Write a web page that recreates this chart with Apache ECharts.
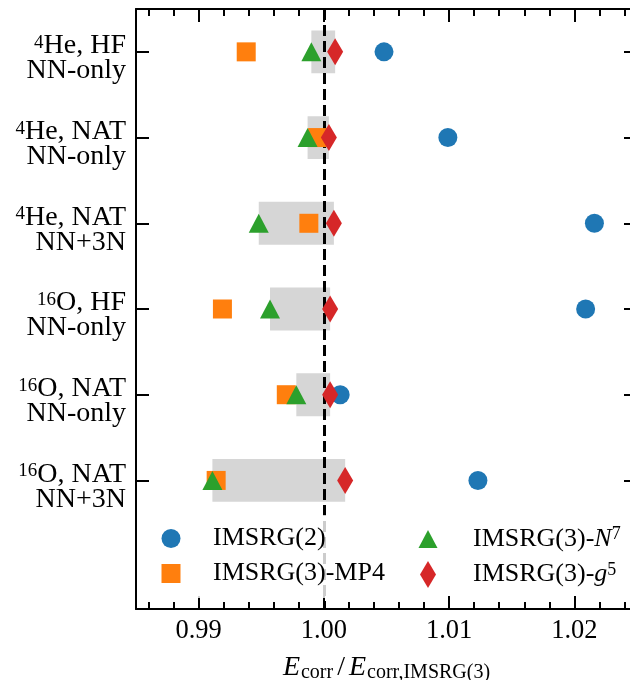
<!DOCTYPE html>
<html>
<head>
<meta charset="utf-8">
<script src="https://cdn.jsdelivr.net/npm/echarts@6/dist/echarts.min.js"></script>
<style>
  html, body { margin: 0; padding: 0; background: #ffffff; }
  #chart { width: 630px; height: 680px; }
</style>
</head>
<body>
<div id="chart"></div>
<script>
// Row labels: mass number (superscript), nucleus + reference state, interaction
const massNumber = ['4', '4', '4', '16', '16', '16'];
const caseTitle = ['He, HF', 'He, NAT', 'He, NAT', 'O, HF', 'O, NAT', 'O, NAT'];
const interaction = ['NN-only', 'NN-only', 'NN+3N', 'NN-only', 'NN-only', 'NN+3N'];

// Correlation energy ratios E_corr / E_corr,IMSRG(3), one entry per row
const imsrg2 = [1.0048, 1.0099, 1.0216, 1.0209, 1.0013, 1.0123];
const imsrg3MP4 = [0.9938, 0.9995, 0.9988, 0.9919, 0.9970, 0.9914];
const imsrg3N7 = [0.9990, 0.9987, 0.9948, 0.9957, 0.9978, 0.9911];
const imsrg3G5 = [1.0009, 1.0004, 1.0008, 1.0005, 1.0005, 1.0017];

// Axis ticks
const xMajorTicks = [0.99, 1.00, 1.01, 1.02];
const xMinorTicks = [0.986, 0.988, 0.992, 0.994, 0.996, 0.998, 1.002, 1.004, 1.006, 1.008,
                     1.012, 1.014, 1.016, 1.018, 1.022, 1.024];
const rowTicks = [0, 1, 2, 3, 4, 5];
const referenceRatio = 1.0;

const SERIF = 'Liberation Serif';
const BLACK = '#000000';

const toPoints = arr => arr.map((v, i) => [v, i]);

// Shaded spread between the N^7 and g^5 truncations
const bandData = imsrg3N7.map((v, i) => [Math.min(v, imsrg3G5[i]), Math.max(v, imsrg3G5[i]), i]);

// Marker shapes shared by the plot and the legend
const ICON_SQUARE = 'path://M0,0L19,0L19,19L0,19Z';
const ICON_TRIANGLE = 'path://M10,0L20,19L0,19Z';
const ICON_DIAMOND = 'path://M8,0L16,13.5L8,27L0,13.5Z';

const chart = echarts.init(document.getElementById('chart'), null, { renderer: 'canvas' });

const lineStyle = { color: BLACK, width: 2 };

function xAxisDef(position, ticks, len, showLine, showLabels, extra) {
  return Object.assign({
    type: 'value',
    min: 0.985,
    max: 1.025,
    position: position,
    axisLine: { show: showLine, onZero: false, lineStyle: lineStyle },
    axisTick: { show: true, inside: true, length: len, customValues: ticks, lineStyle: lineStyle },
    axisLabel: showLabels ? {
      customValues: ticks,
      formatter: v => v.toFixed(2),
      margin: 9,
      fontFamily: SERIF, fontSize: 26.5, color: BLACK
    } : { show: false },
    splitLine: { show: false }
  }, extra || {});
}

const legendRich = {
  t: { fontFamily: SERIF, fontSize: 26, color: BLACK, lineHeight: 27 },
  i: { fontFamily: SERIF, fontSize: 26, fontStyle: 'italic', color: BLACK, lineHeight: 27 },
  sup: { fontFamily: SERIF, fontSize: 18, color: BLACK, lineHeight: 18, verticalAlign: 'top' }
};
const legendText = {
  'IMSRG(2)': '{t|IMSRG(2)}',
  'IMSRG(3)-MP4': '{t|IMSRG(3)-MP4}',
  'IMSRG(3)-N7': '{t|IMSRG(3)-}{i|N}{sup|7}',
  'IMSRG(3)-g5': '{t|IMSRG(3)-}{i|g}{sup|5}'
};

const option = {
  animation: false,
  backgroundColor: '#ffffff',
  grid: { left: 136, top: 9, width: 501, height: 600, outerBoundsMode: 'none', containLabel: false },
  xAxis: [
    xAxisDef('bottom', xMajorTicks, 13, true, true, {
      name: '{i|E}{sub|corr}{s|/}{i|E}{sub|corr,IMSRG(3)}',
      nameLocation: 'middle',
      nameGap: 43.5,
      nameTextStyle: {
        rich: {
          s: { fontFamily: SERIF, fontSize: 28, color: BLACK, lineHeight: 30, padding: [0, 4, 0, 4] },
          i: { fontFamily: SERIF, fontSize: 28, fontStyle: 'italic', color: BLACK, lineHeight: 30 },
          sub: { fontFamily: SERIF, fontSize: 20, color: BLACK, lineHeight: 18, verticalAlign: 'bottom', padding: [0, 0, 0, 1] }
        }
      }
    }),
    xAxisDef('bottom', xMinorTicks, 7, false, false),
    xAxisDef('top', xMajorTicks, 13, true, false),
    xAxisDef('top', xMinorTicks, 7, false, false)
  ],
  yAxis: [
    {
      type: 'value', inverse: true, min: -0.5, max: 6.5, position: 'left',
      axisLine: { show: true, onZero: false, lineStyle: lineStyle },
      axisTick: { show: true, inside: true, length: 13, customValues: rowTicks, lineStyle: lineStyle },
      axisLabel: {
        customValues: rowTicks,
        margin: 10,
        align: 'right',
        padding: [13, 0, 0, 0],
        formatter: v => {
          const k = Math.round(v);
          return '{sup|' + massNumber[k] + '}{t|' + caseTitle[k] + '}\n{t|' + interaction[k] + '}';
        },
        rich: {
          t: { fontFamily: SERIF, fontSize: 28, color: BLACK, lineHeight: 25, align: 'right' },
          sup: { fontFamily: SERIF, fontSize: 19, color: BLACK, lineHeight: 15, verticalAlign: 'top', align: 'right' }
        }
      },
      splitLine: { show: false }
    },
    {
      type: 'value', inverse: true, min: -0.5, max: 6.5, position: 'right',
      axisLine: { show: true, onZero: false, lineStyle: lineStyle },
      axisTick: { show: true, inside: true, length: 13, customValues: rowTicks, lineStyle: lineStyle },
      axisLabel: { show: false },
      splitLine: { show: false }
    }
  ],
  legend: [
    {
      orient: 'vertical',
      left: 151.5,
      top: 515,
      padding: [10.5, 10, 11.5, 10],
      backgroundColor: 'rgba(255,255,255,0.8)',
      itemWidth: 19,
      itemHeight: 27,
      itemGap: 9,
      symbolKeepAspect: true,
      selectedMode: false,
      data: [
        { name: 'IMSRG(2)', icon: 'circle' },
        { name: 'IMSRG(3)-MP4', icon: ICON_SQUARE }
      ],
      formatter: name => legendText[name],
      textStyle: { padding: [0, 0, 0, 27.5], rich: legendRich }
    },
    {
      orient: 'vertical',
      left: 418.5,
      top: 525.5,
      padding: 0,
      itemWidth: 19,
      itemHeight: 27,
      itemGap: 9,
      symbolKeepAspect: true,
      selectedMode: false,
      data: [
        { name: 'IMSRG(3)-N7', icon: ICON_TRIANGLE },
        { name: 'IMSRG(3)-g5', icon: ICON_DIAMOND }
      ],
      formatter: name => legendText[name],
      textStyle: { padding: [0, 0, 0, 30.5], rich: legendRich }
    }
  ],
  series: [
    {
      name: 'spread',
      type: 'custom',
      z: 1,
      silent: true,
      data: bandData,
      renderItem: (params, api) => {
        const lo = api.value(0), hi = api.value(1), row = api.value(2);
        const p1 = api.coord([lo, row - 0.25]);
        const p2 = api.coord([hi, row + 0.25]);
        return {
          type: 'rect',
          shape: {
            x: Math.min(p1[0], p2[0]), y: Math.min(p1[1], p2[1]),
            width: Math.abs(p2[0] - p1[0]), height: Math.abs(p2[1] - p1[1])
          },
          style: { fill: '#d6d6d6' }
        };
      },
      markLine: {
        silent: true,
        z: 1.5,
        symbol: ['none', 'none'],
        label: { show: false },
        lineStyle: { color: BLACK, width: 3, type: [11, 5] },
        data: [{ xAxis: referenceRatio }]
      }
    },
    {
      name: 'IMSRG(2)', type: 'scatter', symbol: 'circle', symbolSize: 19,
      itemStyle: { color: '#1f77b4', opacity: 1 }, data: toPoints(imsrg2), z: 2
    },
    {
      name: 'IMSRG(3)-MP4', type: 'scatter', symbol: ICON_SQUARE, symbolSize: 19,
      itemStyle: { color: '#ff7f0e', opacity: 1 }, data: toPoints(imsrg3MP4), z: 2
    },
    {
      name: 'IMSRG(3)-N7', type: 'scatter', symbol: ICON_TRIANGLE, symbolSize: [20, 19],
      itemStyle: { color: '#2ca02c', opacity: 1 }, data: toPoints(imsrg3N7), z: 2
    },
    {
      name: 'IMSRG(3)-g5', type: 'scatter', symbol: ICON_DIAMOND, symbolSize: [16, 27],
      itemStyle: { color: '#d62728', opacity: 1 }, data: toPoints(imsrg3G5), z: 2
    }
  ]
};

chart.setOption(option);
</script>
</body>
</html>
